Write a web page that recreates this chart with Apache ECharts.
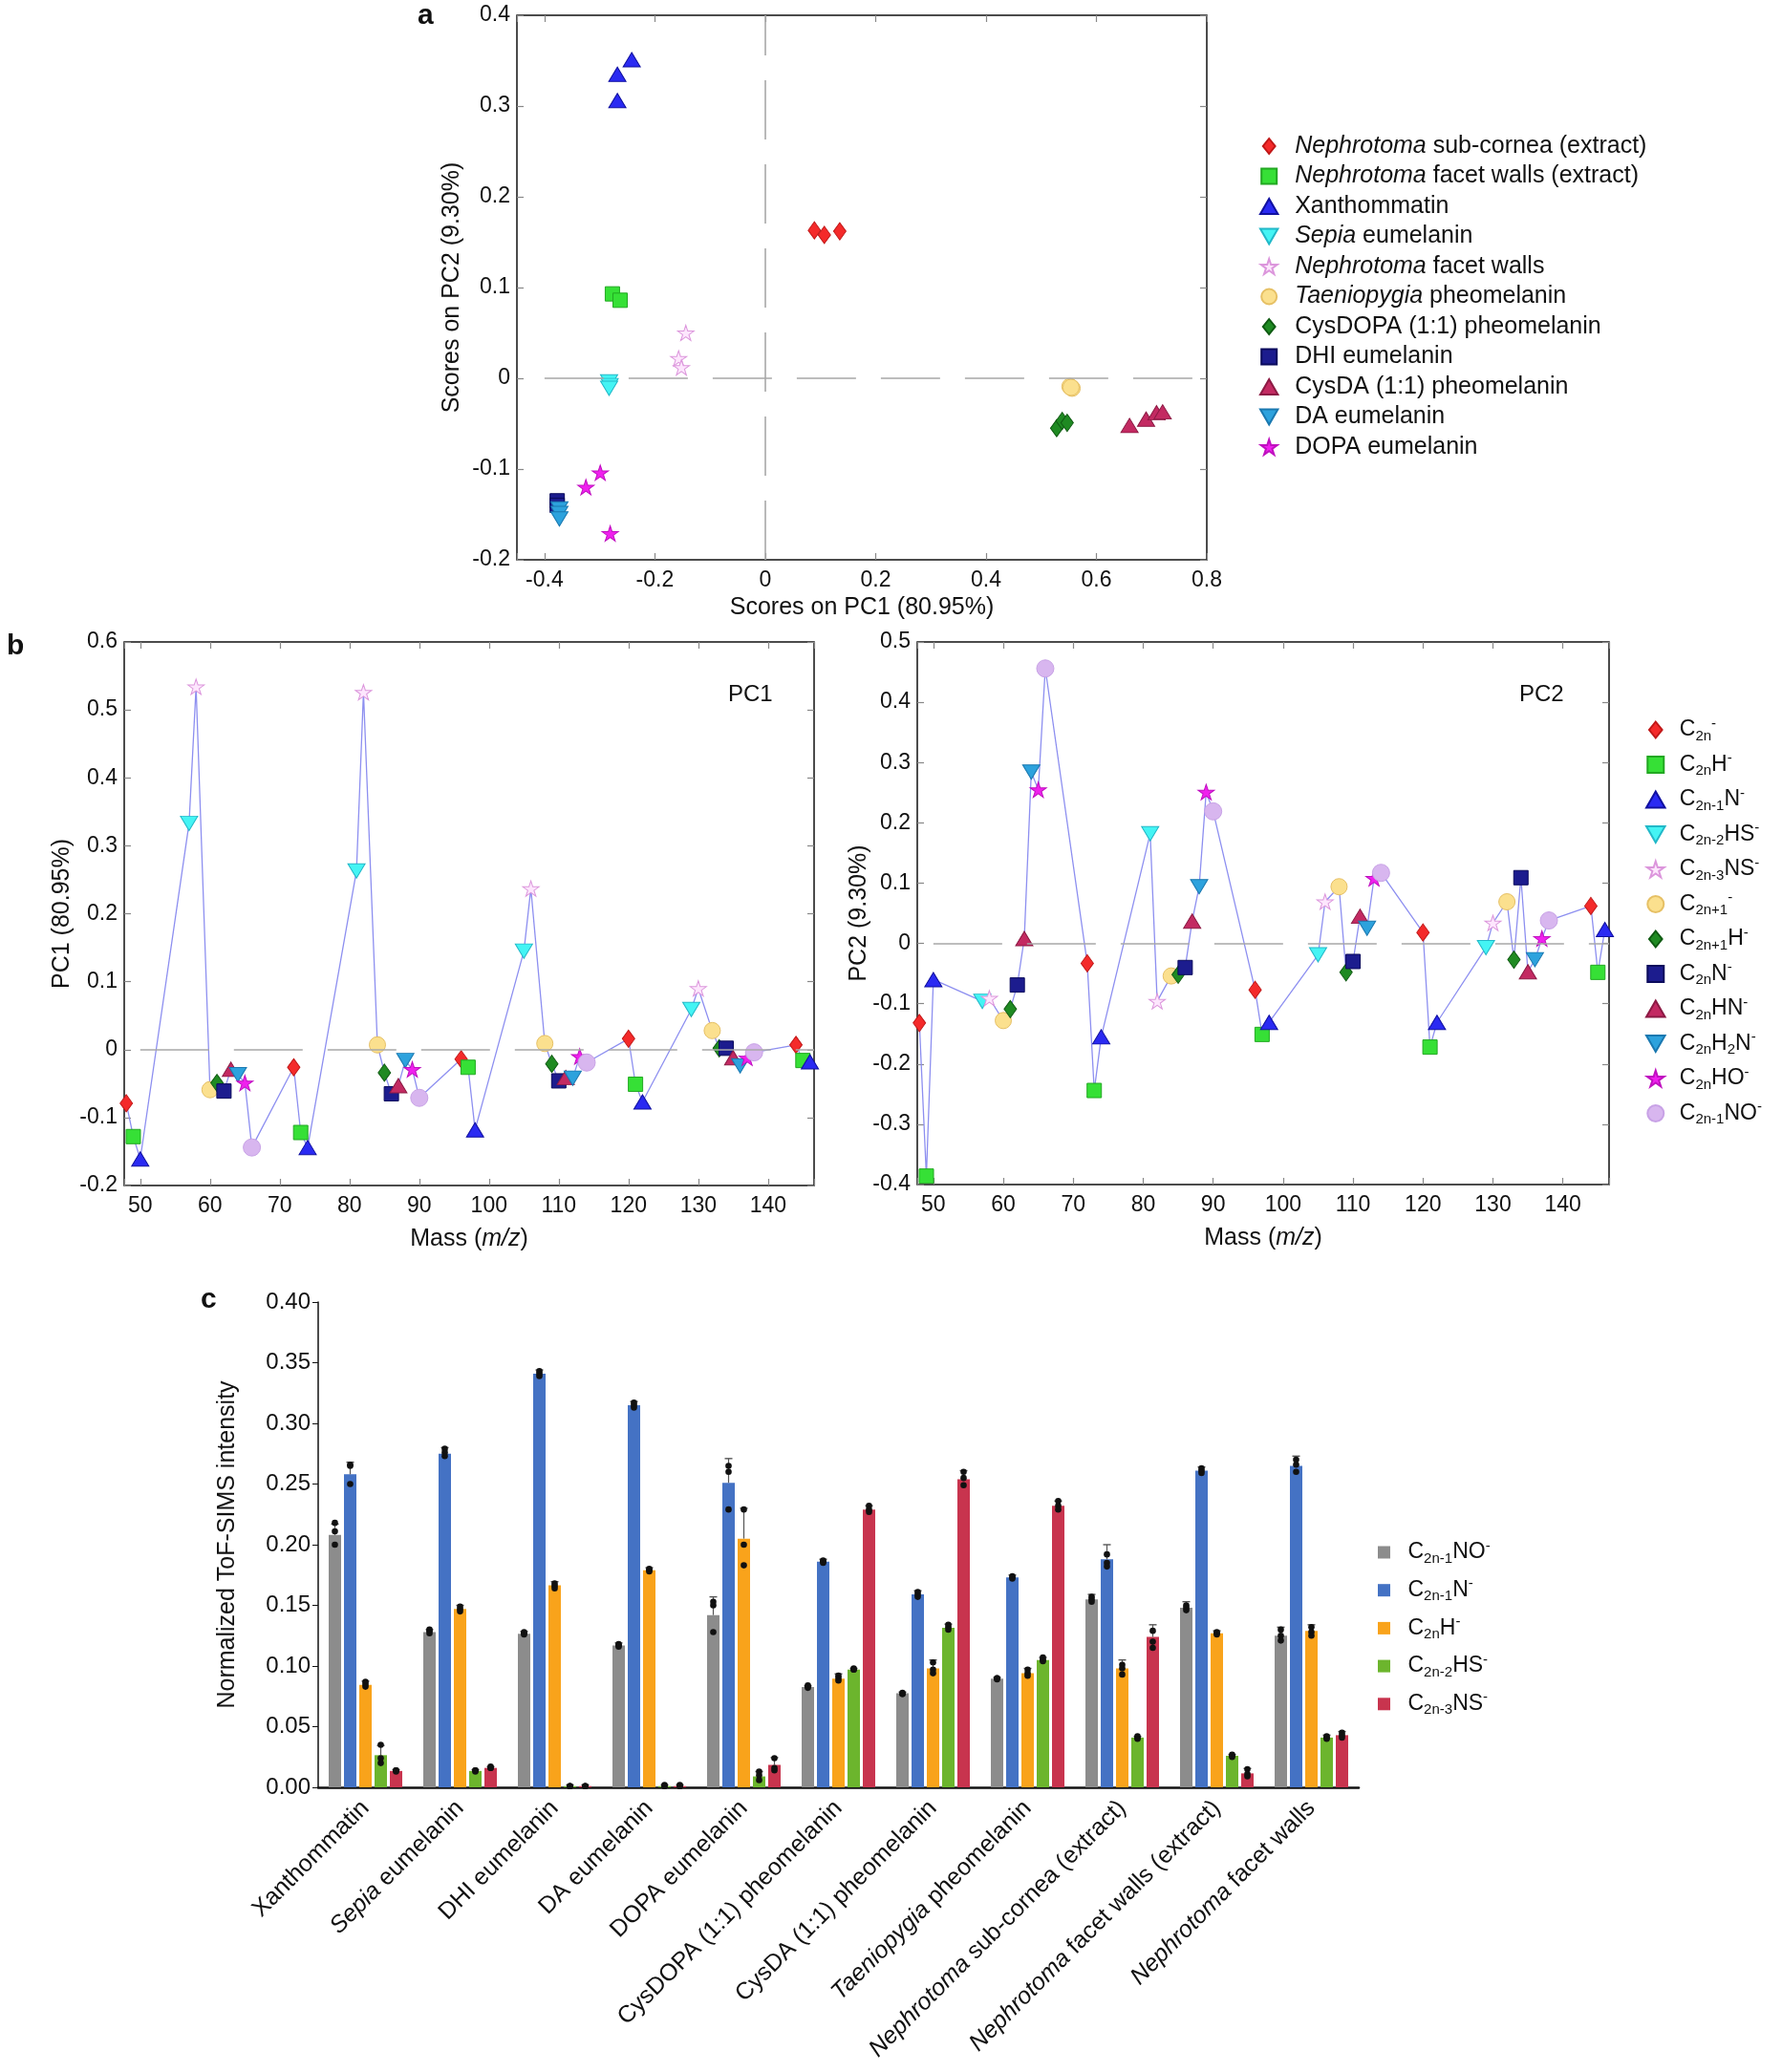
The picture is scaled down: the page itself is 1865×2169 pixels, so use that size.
<!DOCTYPE html>
<html>
<head>
<meta charset="utf-8">
<script src="https://cdn.jsdelivr.net/npm/echarts@6/dist/echarts.min.js"></script>
<style>
html, body { margin: 0; padding: 0; background: #fff; }
#main { width: 1865px; height: 2169px; }
</style>
</head>
<body>
<div id="main"></div>
<script>
var fontFam = '"Liberation Sans", Arial, Helvetica, sans-serif';

// ---------- panel a : scores on PC1 / PC2 ----------
var groupNames = ['Nephrotoma sub-cornea (extract)', 'Nephrotoma facet walls (extract)', 'Xanthommatin',
    'Sepia eumelanin', 'Nephrotoma facet walls', 'Taeniopygia pheomelanin', 'CysDOPA (1:1) pheomelanin',
    'DHI eumelanin', 'CysDA (1:1) pheomelanin', 'DA eumelanin', 'DOPA eumelanin'];
var scoresSubCornea = [[0.089, 0.163], [0.107, 0.158], [0.135, 0.162]];
var scoresFacetExtract = [[-0.277, 0.093], [-0.263, 0.086]];
var scoresXanth = [[-0.242, 0.351], [-0.268, 0.335], [-0.268, 0.306]];
var scoresSepia = [[-0.283, -0.004], [-0.282, -0.008], [-0.283, -0.011]];
var scoresFacetWalls = [[-0.144, 0.050], [-0.157, 0.022], [-0.152, 0.012]];
var scoresTaenio = [[0.552, -0.009], [0.556, -0.011], [0.554, -0.010]];
var scoresCysDopa = [[0.528, -0.055], [0.538, -0.047], [0.547, -0.049]];
var scoresDhi = [[-0.377, -0.135], [-0.377, -0.140]];
var scoresCysDa = [[0.660, -0.052], [0.690, -0.045], [0.709, -0.038], [0.720, -0.037]];
var scoresDa = [[-0.373, -0.144], [-0.373, -0.149], [-0.373, -0.155]];
var scoresDopa = [[-0.299, -0.104], [-0.325, -0.120], [-0.281, -0.171]];
var groupScores = [scoresSubCornea, scoresFacetExtract, scoresXanth, scoresSepia, scoresFacetWalls,
    scoresTaenio, scoresCysDopa, scoresDhi, scoresCysDa, scoresDa, scoresDopa];

// ---------- panel b : loadings ----------
var ionNames = ['C2n-', 'C2nH-', 'C2n-1N-', 'C2n-2HS-', 'C2n-3NS-', 'C2n+1-', 'C2n+1H-',
    'C2nN-', 'C2nHN-', 'C2nH2N-', 'C2nHO-', 'C2n-1NO-'];
var ionLabels = ['C{s|2n}{p|-}', 'C{s|2n}H{p|-}', 'C{s|2n-1}N{p|-}', 'C{s|2n-2}HS{p|-}', 'C{s|2n-3}NS{p|-}',
    'C{s|2n+1}{p|-}', 'C{s|2n+1}H{p|-}', 'C{s|2n}N{p|-}', 'C{s|2n}HN{p|-}', 'C{s|2n}H{s|2}N{p|-}',
    'C{s|2n}HO{p|-}', 'C{s|2n-1}NO{p|-}'];

var massC2n = [48, 72, 96, 120, 144];
var pc1C2n = [-0.079, -0.026, -0.014, 0.016, 0.007];
var pc2C2n = [-0.132, -0.033, -0.077, 0.018, 0.062];
var massC2nH = [49, 73, 97, 121, 145];
var pc1C2nH = [-0.128, -0.122, -0.026, -0.051, -0.016];
var pc2C2nH = [-0.386, -0.244, -0.151, -0.172, -0.048];
var massC2n1N = [50, 74, 98, 122, 146];
var pc1C2n1N = [-0.161, -0.144, -0.118, -0.077, -0.018];
var pc2C2n1N = [-0.060, -0.155, -0.131, -0.131, 0.023];
var massC2n2HS = [57, 81, 105, 129];
var pc1C2n2HS = [0.333, 0.263, 0.145, 0.059];
var pc2C2n2HS = [-0.096, 0.182, -0.019, -0.007];
var massC2n3NS = [58, 82, 106, 130];
var pc1C2n3NS = [0.534, 0.526, 0.237, 0.090];
var pc2C2n3NS = [-0.091, -0.096, 0.069, 0.034];
var massC2np1 = [60, 84, 108, 132];
var pc1C2np1 = [-0.059, 0.007, 0.009, 0.028];
var pc2C2np1 = [-0.128, -0.054, 0.094, 0.069];
var massC2np1H = [61, 85, 109, 133];
var pc1C2np1H = [-0.049, -0.034, -0.021, 0.002];
var pc2C2np1H = [-0.109, -0.052, -0.048, -0.027];
var massC2nN = [62, 86, 110, 134];
var pc1C2nN = [-0.061, -0.065, -0.046, 0.002];
var pc2C2nN = [-0.069, -0.040, -0.030, 0.109];
var massC2nHN = [63, 87, 111, 135];
var pc1C2nHN = [-0.029, -0.053, -0.041, -0.012];
var pc2C2nHN = [0.008, 0.037, 0.045, -0.047];
var massC2nH2N = [64, 88, 112, 136];
var pc1C2nH2N = [-0.037, -0.016, -0.042, -0.024];
var pc2C2nH2N = [0.284, 0.094, 0.025, -0.027];
var massC2nHO = [65, 89, 113, 137];
var pc1C2nHO = [-0.049, -0.029, -0.010, -0.012];
var pc2C2nHO = [0.255, 0.251, 0.108, 0.008];
var massC2n1NO = [66, 90, 114, 138];
var pc1C2n1NO = [-0.144, -0.071, -0.019, -0.004];
var pc2C2n1NO = [0.456, 0.219, 0.117, 0.038];

var ionMasses = [massC2n, massC2nH, massC2n1N, massC2n2HS, massC2n3NS, massC2np1, massC2np1H,
    massC2nN, massC2nHN, massC2nH2N, massC2nHO, massC2n1NO];
var ionPc1 = [pc1C2n, pc1C2nH, pc1C2n1N, pc1C2n2HS, pc1C2n3NS, pc1C2np1, pc1C2np1H,
    pc1C2nN, pc1C2nHN, pc1C2nH2N, pc1C2nHO, pc1C2n1NO];
var ionPc2 = [pc2C2n, pc2C2nH, pc2C2n1N, pc2C2n2HS, pc2C2n3NS, pc2C2np1, pc2C2np1H,
    pc2C2nN, pc2C2nHN, pc2C2nH2N, pc2C2nHO, pc2C2n1NO];

// ---------- panel c : normalized intensities ----------
var sampleNames = ['Xanthommatin', 'Sepia eumelanin', 'DHI eumelanin', 'DA eumelanin', 'DOPA eumelanin',
    'CysDOPA (1:1) pheomelanin', 'CysDA (1:1) pheomelanin', 'Taeniopygia pheomelanin',
    'Nephrotoma sub-cornea (extract)', 'Nephrotoma facet walls (extract)', 'Nephrotoma facet walls'];
var barIonNames = ['C2n-1NO-', 'C2n-1N-', 'C2nH-', 'C2n-2HS-', 'C2n-3NS-'];
var barIonLabels = ['C{s|2n-1}NO{p|-}', 'C{s|2n-1}N{p|-}', 'C{s|2n}H{p|-}', 'C{s|2n-2}HS{p|-}', 'C{s|2n-3}NS{p|-}'];

var meanC2n1NO = [0.208, 0.128, 0.1265, 0.117, 0.142, 0.0826, 0.0775, 0.0895, 0.155, 0.148, 0.125];
var sdC2n1NO = [0.009, 0.002, 0.002, 0.002, 0.015, 0.001, 0.001, 0.001, 0.004, 0.005, 0.007];
var repC2n1NO = [[0.218, 0.211, 0.200], [0.130, 0.129, 0.127], [0.128, 0.127, 0.126], [0.118, 0.117, 0.116],
    [0.153, 0.150, 0.128], [0.084, 0.083, 0.082], [0.078, 0.077, 0.077], [0.090, 0.090, 0.089],
    [0.157, 0.155, 0.153], [0.150, 0.148, 0.146], [0.130, 0.125, 0.121]];
var meanC2n1N = [0.258, 0.275, 0.341, 0.315, 0.251, 0.186, 0.159, 0.173, 0.188, 0.261, 0.265];
var sdC2n1N = [0.010, 0.005, 0.003, 0.003, 0.020, 0.002, 0.003, 0.002, 0.012, 0.003, 0.008];
var repC2n1N = [[0.266, 0.265, 0.250], [0.279, 0.276, 0.273], [0.343, 0.341, 0.339], [0.317, 0.315, 0.313],
    [0.265, 0.260, 0.229], [0.187, 0.186, 0.185], [0.161, 0.159, 0.157], [0.174, 0.173, 0.172],
    [0.192, 0.185, 0.182], [0.263, 0.261, 0.259], [0.270, 0.266, 0.260]];
var meanC2nH = [0.0845, 0.147, 0.1665, 0.179, 0.205, 0.0895, 0.098, 0.094, 0.098, 0.127, 0.129];
var sdC2nH = [0.003, 0.003, 0.003, 0.002, 0.025, 0.004, 0.007, 0.004, 0.007, 0.002, 0.005];
var repC2nH = [[0.087, 0.085, 0.083], [0.149, 0.147, 0.145], [0.168, 0.166, 0.164], [0.180, 0.179, 0.178],
    [0.229, 0.200, 0.183], [0.092, 0.090, 0.088], [0.103, 0.097, 0.094], [0.097, 0.094, 0.092],
    [0.101, 0.098, 0.093], [0.128, 0.127, 0.126], [0.132, 0.128, 0.125]];
var meanC2n2HS = [0.0265, 0.0135, 0.001, 0.001, 0.009, 0.097, 0.1315, 0.105, 0.041, 0.026, 0.041];
var sdC2n2HS = [0.008, 0.001, 0.001, 0.001, 0.004, 0.001, 0.003, 0.002, 0.001, 0.001, 0.002];
var repC2n2HS = [[0.035, 0.024, 0.020], [0.014, 0.014, 0.013], [0.001, 0.001, 0.001], [0.002, 0.001, 0.001],
    [0.013, 0.010, 0.006], [0.098, 0.097, 0.097], [0.134, 0.132, 0.130], [0.107, 0.105, 0.104],
    [0.042, 0.041, 0.040], [0.027, 0.026, 0.025], [0.042, 0.041, 0.040]];
var meanC2n3NS = [0.0135, 0.016, 0.001, 0.001, 0.0185, 0.229, 0.254, 0.232, 0.124, 0.0115, 0.043];
var sdC2n3NS = [0.001, 0.001, 0.001, 0.001, 0.006, 0.003, 0.007, 0.004, 0.010, 0.004, 0.003];
var repC2n3NS = [[0.014, 0.014, 0.013], [0.017, 0.016, 0.016], [0.001, 0.001, 0.001], [0.002, 0.001, 0.001],
    [0.024, 0.016, 0.014], [0.232, 0.229, 0.227], [0.260, 0.255, 0.249], [0.236, 0.232, 0.229],
    [0.129, 0.120, 0.115], [0.015, 0.011, 0.009], [0.045, 0.043, 0.041]];

var barMeans = [meanC2n1NO, meanC2n1N, meanC2nH, meanC2n2HS, meanC2n3NS];
var barSds = [sdC2n1NO, sdC2n1N, sdC2nH, sdC2n2HS, sdC2n3NS];
var barReps = [repC2n1NO, repC2n1N, repC2nH, repC2n2HS, repC2n3NS];

// ---------- styles ----------
var symDiamond = 'path://M4,0L8,5L4,10L0,5Z';
var symSquare = 'path://M0,0H10V10H0Z';
var symTriUp = 'path://M5,0L10,8.7L0,8.7Z';
var symTriDown = 'path://M0,0L10,0L5,8.7Z';
var symCircle = 'path://M0,5A5,5,0,1,1,10,5A5,5,0,1,1,0,5Z';
var symStar = 'path://M5,0L6.12,3.45L9.76,3.45L6.82,5.59L7.94,9.05L5,6.91L2.06,9.05L3.18,5.59L0.24,3.45L3.88,3.45Z';

var markerStyles = [
    {symbol: symDiamond, size: [13, 18], color: '#f42a2a', border: '#c01818'},
    {symbol: symSquare, size: [15, 15], color: '#36e036', border: '#22a822'},
    {symbol: symTriUp, size: [18, 15], color: '#2a2af2', border: '#1010a0'},
    {symbol: symTriDown, size: [18, 15], color: '#44f4f4', border: '#22b8c8'},
    {symbol: symStar, size: [17, 16], color: '#fde6fd', border: '#dc96dc'},
    {symbol: symCircle, size: [17, 17], color: '#fbe08e', border: '#e6c065'},
    {symbol: symDiamond, size: [13, 18], color: '#1f8a22', border: '#0f5a12'},
    {symbol: symSquare, size: [15, 15], color: '#1c1c8e', border: '#0b0b5c'},
    {symbol: symTriUp, size: [18, 15], color: '#c32a62', border: '#8c1a44'},
    {symbol: symTriDown, size: [18, 15], color: '#2da2dd', border: '#1a78b0'},
    {symbol: symStar, size: [17, 16], color: '#f020ee', border: '#c010c0'},
    {symbol: symCircle, size: [18, 18], color: '#d8b6ef', border: '#c8a2e6'}
];
var barColors = ['#8c8c8c', '#4472c4', '#f9a31b', '#6cb52d', '#c8344e'];
var barWidth = 13, barGapPx = 3;

var richIon = {
    s: {fontSize: 15, fontFamily: fontFam, color: '#111', lineHeight: 14, verticalAlign: 'bottom'},
    p: {fontSize: 15, fontFamily: fontFam, color: '#111', lineHeight: 12, verticalAlign: 'top'}
};
var richItalic = function (size) {
    return {i: {fontStyle: 'italic', fontSize: size, fontFamily: fontFam, color: '#111'}};
};
function italicGenus(s) {
    return s.replace(/^(Nephrotoma|Sepia|Taeniopygia)/, '{i|$1}');
}

var tickStyle = {inside: true, length: 7, lineStyle: {color: '#888', width: 1.2}};
var hiddenLine = {show: false, onZero: false};
function stepFormatter(step, digits) {
    return function (v) {
        var q = v / step;
        if (Math.abs(q - Math.round(q)) > 1e-6) return '';
        return String(parseFloat((Math.round(q) * step).toFixed(digits)));
    };
}
function nameStyle() {
    return {fontSize: 25, fontFamily: fontFam, color: '#111', rich: richItalic(25)};
}
function labelStyle(extra) {
    var o = {fontSize: 23, fontFamily: fontFam, color: '#111'};
    for (var k in extra) o[k] = extra[k];
    return o;
}
// a value axis pair (bottom + top, or left + right) drawn inside a boxed grid
function boxXAxes(grid, min, max, split, step, name, gap) {
    return [
        {gridIndex: grid, type: 'value', min: min, max: max, splitNumber: split, position: 'bottom',
            name: name, nameLocation: 'middle', nameGap: gap, nameTextStyle: nameStyle(), nameMoveOverlap: false,
            axisLine: hiddenLine, axisTick: tickStyle, splitLine: {show: false},
            axisLabel: labelStyle({margin: 10, formatter: stepFormatter(step, 1)})},
        {gridIndex: grid, type: 'value', min: min, max: max, splitNumber: split, position: 'top',
            axisLine: hiddenLine, axisTick: tickStyle, splitLine: {show: false}, axisLabel: {show: false}}
    ];
}
function boxYAxes(grid, min, max, name, gap) {
    return [
        {gridIndex: grid, type: 'value', min: min, max: max, interval: 0.1, position: 'left',
            name: name, nameLocation: 'middle', nameGap: gap, nameTextStyle: nameStyle(), nameMoveOverlap: false,
            axisLine: hiddenLine, axisTick: tickStyle, splitLine: {show: false},
            axisLabel: labelStyle({margin: 7})},
        {gridIndex: grid, type: 'value', min: min, max: max, interval: 0.1, position: 'right',
            axisLine: hiddenLine, axisTick: tickStyle, splitLine: {show: false}, axisLabel: {show: false}}
    ];
}

function scatterSeries(name, k, axisIdx, data) {
    var st = markerStyles[k];
    return {
        name: name, type: 'scatter', xAxisIndex: axisIdx, yAxisIndex: axisIdx, z: 4,
        data: data, symbol: st.symbol, symbolSize: st.size,
        itemStyle: {color: st.color, borderColor: st.border, borderWidth: 1, opacity: 1},
        emphasis: {disabled: true}
    };
}
function sortedLoadings(values) {
    var pts = [];
    ionMasses.forEach(function (m, k) {
        m.forEach(function (x, j) { pts.push([x, values[k][j]]); });
    });
    pts.sort(function (a, b) { return a[0] - b[0]; });
    return pts;
}
function zeroLine(coords, dash) {
    return {
        silent: true, symbol: ['none', 'none'], animation: false, label: {show: false},
        lineStyle: {color: '#a8a8a8', width: 1.6, type: dash},
        data: coords
    };
}

var series = [];

// panel a
groupNames.forEach(function (n, k) {
    var s = scatterSeries(n, k, 0, groupScores[k]);
    if (k === 0) {
        s.markLine = zeroLine([
            [{coord: [-0.4, 0]}, {coord: [0.8, 0]}],
            [{coord: [0, -0.2]}, {coord: [0, 0.4]}]
        ], [62, 26]);
    }
    series.push(s);
});

// panel b lines
[ionPc1, ionPc2].forEach(function (vals, p) {
    series.push({
        name: 'loading line ' + (p + 1), type: 'line', xAxisIndex: 2 + 2 * p, yAxisIndex: 2 + 2 * p, z: 2,
        data: sortedLoadings(vals), showSymbol: false, symbol: 'none',
        lineStyle: {color: '#8d8ff0', width: 1.3},
        emphasis: {disabled: true},
        markLine: zeroLine([[{coord: [50, 0]}, {coord: [146.6, 0]}]], [72, 26])
    });
});
// panel b markers
ionNames.forEach(function (n, k) {
    series.push(scatterSeries(n, k, 2, ionMasses[k].map(function (x, j) { return [x, ionPc1[k][j]]; })));
    series.push(scatterSeries(n, k, 4, ionMasses[k].map(function (x, j) { return [x, ionPc2[k][j]]; })));
});

// panel c bars, error bars and replicate dots
barIonNames.forEach(function (n, k) {
    series.push({
        name: 'bar ' + n, type: 'bar', xAxisIndex: 6, yAxisIndex: 6,
        data: barMeans[k], barWidth: barWidth, barGap: (barGapPx / barWidth * 100) + '%',
        itemStyle: {color: barColors[k]}, emphasis: {disabled: true}
    });
});
barIonNames.forEach(function (n, k) {
    series.push({
        name: 'err ' + n, type: 'custom', xAxisIndex: 6, yAxisIndex: 6, z: 5, silent: true,
        data: barMeans[k].map(function (m, i) {
            return [i, m, barSds[k][i]].concat(barReps[k][i]);
        }),
        renderItem: function (params, api) {
            var c = api.coord([api.value(0), api.value(1)]);
            var x = c[0] + (k - 2) * (barWidth + barGapPx);
            var top = api.coord([api.value(0), api.value(1) + api.value(2)])[1];
            var children = [
                {type: 'line', shape: {x1: x, y1: c[1], x2: x, y2: top}, style: {stroke: '#555', lineWidth: 1.2}},
                {type: 'line', shape: {x1: x - 4, y1: top, x2: x + 4, y2: top}, style: {stroke: '#555', lineWidth: 1.4}}
            ];
            for (var r = 3; r < 6; r++) {
                var p = api.coord([api.value(0), api.value(r)]);
                children.push({type: 'circle', shape: {cx: x, cy: p[1], r: 3.3}, style: {fill: '#111'}});
            }
            return {type: 'group', children: children};
        }
    });
});

var myChart = echarts.init(document.getElementById('main'));

var option = {
    animation: false,
    backgroundColor: '#fff',
    grid: [
        {left: 541, top: 16, width: 722, height: 570, show: true, borderColor: '#111', borderWidth: 1.5, outerBoundsMode: 'none'},
        {left: 130, top: 672, width: 722, height: 569, show: true, borderColor: '#111', borderWidth: 1.5, outerBoundsMode: 'none'},
        {left: 960, top: 672, width: 724, height: 568, show: true, borderColor: '#111', borderWidth: 1.5, outerBoundsMode: 'none'},
        {left: 333, top: 1363, width: 1089, height: 508, outerBoundsMode: 'none'}
    ],
    xAxis: [].concat(
        boxXAxes(0, -0.45, 0.8, 6, 0.2, 'Scores on PC1 (80.95%)', 38),
        boxXAxes(1, 47.7, 146.6, 10, 10, 'Mass ({i|m/z})', 44),
        boxXAxes(2, 47.7, 146.6, 10, 10, 'Mass ({i|m/z})', 44),
        [{
            gridIndex: 3, type: 'category', data: sampleNames,
            axisLine: {lineStyle: {color: '#111', width: 2.5}},
            axisTick: {show: false},
            axisLabel: {interval: 0, rotate: 45, margin: 18, fontSize: 25, fontFamily: fontFam, color: '#111',
                formatter: italicGenus, rich: richItalic(25)}
        }]
    ),
    yAxis: [].concat(
        boxYAxes(0, -0.2, 0.4, 'Scores on PC2 (9.30%)', 55),
        boxYAxes(1, -0.2, 0.6, 'PC1 (80.95%)', 52),
        boxYAxes(2, -0.4, 0.5, 'PC2 (9.30%)', 48),
        [{
            gridIndex: 3, type: 'value', min: 0, max: 0.4, interval: 0.05,
            name: 'Normalized ToF-SIMS intensity', nameLocation: 'middle', nameGap: 82, nameMoveOverlap: false,
            nameTextStyle: nameStyle(),
            axisLine: {show: true, lineStyle: {color: '#111', width: 1.5}},
            axisTick: {show: true, inside: false, length: 6, lineStyle: {color: '#111'}},
            splitLine: {show: false},
            axisLabel: {fontSize: 24, fontFamily: fontFam, color: '#111', margin: 8,
                formatter: function (v) { return v.toFixed(2); }}
        }]
    ),
    legend: [
        {
            orient: 'vertical', left: 1318, top: 138, padding: 0, selectedMode: false,
            itemWidth: 44, itemHeight: 16, itemGap: 1.5,
            data: groupNames,
            formatter: italicGenus,
            textStyle: {fontSize: 25, fontFamily: fontFam, color: '#111', lineHeight: 30, rich: richItalic(25)}
        },
        {
            orient: 'vertical', left: 1722, top: 750, padding: 0, selectedMode: false,
            itemWidth: 40, itemHeight: 17, itemGap: 8.5,
            data: ionNames,
            formatter: function (n) { return ionLabels[ionNames.indexOf(n)]; },
            textStyle: {fontSize: 23, fontFamily: fontFam, color: '#111', lineHeight: 28, rich: richIon}
        },
        {
            orient: 'vertical', left: 1442, top: 1611, padding: 0, selectedMode: false,
            itemWidth: 40, itemHeight: 13, itemGap: 11.7, icon: symSquare,
            data: barIonNames.map(function (n) { return 'bar ' + n; }),
            formatter: function (n) { return barIonLabels[barIonNames.indexOf(n.slice(4))]; },
            textStyle: {fontSize: 23, fontFamily: fontFam, color: '#111', lineHeight: 28, rich: richIon}
        }
    ],
    graphic: [
        {type: 'text', left: 437, top: 2, style: {text: 'a', fontSize: 30, fontWeight: 'bold', fontFamily: fontFam, fill: '#111'}},
        {type: 'text', left: 7, top: 662, style: {text: 'b', fontSize: 30, fontWeight: 'bold', fontFamily: fontFam, fill: '#111'}},
        {type: 'text', left: 210, top: 1346, style: {text: 'c', fontSize: 30, fontWeight: 'bold', fontFamily: fontFam, fill: '#111'}},
        {type: 'text', left: 762, top: 715, style: {text: 'PC1', fontSize: 24, fontFamily: fontFam, fill: '#111'}},
        {type: 'text', left: 1590, top: 715, style: {text: 'PC2', fontSize: 24, fontFamily: fontFam, fill: '#111'}}
    ],
    series: series
};

myChart.setOption(option);
</script>
</body>
</html>
